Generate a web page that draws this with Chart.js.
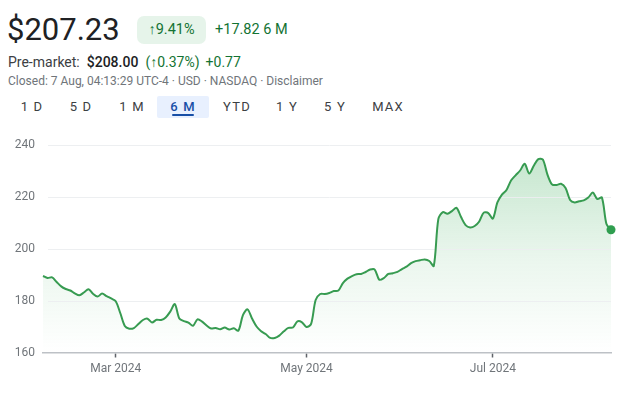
<!DOCTYPE html>
<html>
<head>
<meta charset="utf-8">
<script src="https://cdn.jsdelivr.net/npm/chart.js@4.4.1/dist/chart.umd.min.js"></script>
<style>
  html,body{margin:0;padding:0;background:#fff;width:640px;height:401px;overflow:hidden;font-family:Roboto,"Noto Sans",Arial,sans-serif;}
  .abs{position:absolute;white-space:nowrap;}
  #price{left:7px;top:10px;font-size:31px;color:#202124;line-height:40px;}
  #badge{left:137px;top:16px;width:69px;height:28px;background:#e6f4ea;border-radius:7px;color:#137333;font-size:14.5px;line-height:28px;text-align:center;}
  #chg{left:215px;top:16px;font-size:14.5px;color:#137333;line-height:28px;}
  #pre{left:8px;top:52px;font-size:14px;line-height:20px;color:#3c4043;}
  #pre b{font-weight:500;color:#202124;margin-left:7px;margin-right:7px;}
  #pre .g{color:#137333;}
  #pre .g2{color:#137333;margin-left:6px;}
  #closed{left:8px;top:72px;font-size:12px;line-height:18px;color:#70757a;}
  .tab{position:absolute;top:96px;height:22px;line-height:22px;font-size:13px;color:#3c4043;letter-spacing:1.2px;text-align:center;}
  #active{position:absolute;left:157px;top:96px;width:52px;height:22px;background:#e8f0fe;border-radius:2px;}
  #uline{position:absolute;left:172px;top:114px;width:22px;height:2px;background:#174ea6;border-radius:1px;}
  #cv{position:absolute;left:0;top:120px;}
</style>
</head>
<body>
<div id="price" class="abs">$207.23</div>
<div id="badge" class="abs">↑9.41%</div>
<div id="chg" class="abs">+17.82 6 M</div>
<div id="pre" class="abs">Pre-market:<b>$208.00</b><span class="g">(↑0.37%)</span><span class="g2">+0.77</span></div>
<div id="closed" class="abs">Closed: 7 Aug, 04:13:29 UTC-4 · USD · NASDAQ · Disclaimer</div>
<div id="active"></div>
<div id="tabs"></div>
<div id="uline"></div>
<canvas id="cv" width="640" height="270"></canvas>
<script>
// Daily closes (trading days, 7 Feb 2024 .. 6 Aug 2024)
const prices = [
  189.41,188.65,188.92,187.12,185.42,184.42,183.85,182.73,182.00,183.08,
  184.35,182.58,181.50,182.65,181.65,180.80,179.70,175.20,170.20,169.15,
  169.40,170.96,172.50,173.00,171.54,172.60,172.50,173.46,175.70,178.65,
  173.08,172.10,171.50,170.27,172.77,171.90,170.40,169.23,169.42,168.92,
  169.60,168.85,169.30,168.40,174.40,176.60,173.10,170.00,168.20,167.10,
  165.60,165.60,166.50,168.15,169.46,169.60,171.96,171.60,169.80,171.00,
  180.20,182.50,182.50,182.90,183.65,183.85,186.70,188.40,189.40,190.10,
  190.20,190.96,191.90,191.90,188.00,188.60,190.20,190.50,191.00,192.10,
  193.00,194.40,195.15,195.50,195.80,195.20,193.30,211.30,214.00,213.35,
  214.40,215.65,212.10,209.00,208.10,208.65,210.40,213.80,213.60,211.50,
  217.70,220.70,222.50,226.15,228.15,230.00,232.60,228.85,231.80,234.40,
  234.20,228.50,224.70,224.40,224.90,223.30,218.65,217.70,218.20,218.50,
  219.60,221.50,219.00,219.60,209.40,207.23
];
const xTickIndex = [16, 58, 99];
const xTickLabels = ['Mar 2024', 'May 2024', 'Jul 2024'];
const yTicks = [160, 180, 200, 220, 240];
const rangeTabs = ['1D','5D','1M','6M','YTD','1Y','5Y','MAX'];
const activeTab = '6M';

// tabs
const tabCenters = [32, 81, 132, 183, 237, 287, 335, 388];
const tabsEl = document.getElementById('tabs');
rangeTabs.forEach((t, i) => {
  const d = document.createElement('div');
  d.className = 'tab';
  d.textContent = t.length === 2 ? t[0] + ' ' + t[1] : t;
  d.style.left = (tabCenters[i] - 30) + 'px';
  d.style.width = '60px';
  if (t === activeTab) { d.style.color = '#174ea6'; d.style.fontWeight = '500'; }
  tabsEl.appendChild(d);
});

const points = prices.map((v, i) => ({x: i, y: v}));
const last = prices.length - 1;
const green = '#379b51';

const gridPlugin = {
  id: 'gridOverFill',
  afterDatasetDraw(chart, args) {
    if (args.index !== 1) return;
    const {ctx, chartArea} = chart;
    const ys = chart.scales.y;
    ctx.save();
    ctx.strokeStyle = 'rgba(236,238,240,0.95)';
    ctx.lineWidth = 1;
    yTicks.slice(1).forEach(v => {
      const py = Math.round(ys.getPixelForValue(v)) + 0.5;
      ctx.beginPath();
      ctx.moveTo(chartArea.left + 5, py);
      ctx.lineTo(chartArea.right, py);
      ctx.stroke();
    });
    ctx.restore();
  }
};

new Chart(document.getElementById('cv'), {
  type: 'line',
  data: {
    datasets: [
      {
        data: points,
        borderColor: green,
        borderWidth: 2,
        tension: 0.3,
        fill: false,
        order: 0,
        clip: false,
        pointRadius: ctx => ctx.dataIndex === last ? 4.5 : 0,
        pointBackgroundColor: '#2f9e4f',
        pointBorderWidth: 0,
        pointHoverRadius: 0
      },
      {
        data: points,
        borderWidth: 0,
        tension: 0.3,
        pointRadius: 0,
        fill: 'start',
        order: 1,
        backgroundColor: (c) => {
          const ch = c.chart;
          const area = ch.chartArea;
          if (!area) return 'rgba(52,168,83,0.1)';
          const g = ch.ctx.createLinearGradient(0, area.top, 0, area.bottom);
          g.addColorStop(0, 'rgba(52,168,83,0.30)');
          g.addColorStop(0.55, 'rgba(52,168,83,0.10)');
          g.addColorStop(1, 'rgba(52,168,83,0)');
          return g;
        }
      }
    ]
  },
  options: {
    responsive: false,
    animation: false,
    layout: {padding: {top: 24.5, right: 29, bottom: 0, left: 0}},
    plugins: {legend: {display: false}, tooltip: {enabled: false}},
    scales: {
      x: {
        type: 'linear',
        min: 0,
        max: last,
        afterBuildTicks: s => { s.ticks = xTickIndex.map(v => ({value: v})); },
        afterFit: s => { s.height = 37.5; },
        ticks: {
          autoSkip: false, maxRotation: 0, padding: 4,
          color: '#70757a', font: {family: 'Roboto', size: 12},
          callback: v => xTickLabels[xTickIndex.indexOf(v)]
        },
        grid: {drawOnChartArea: false, drawTicks: true, tickLength: 5, tickColor: '#5f6368', tickWidth: 1.5},
        border: {display: true, color: '#bdc1c6', width: 1.5}
      },
      y: {
        min: 160,
        max: 240,
        afterBuildTicks: s => { s.ticks = yTicks.map(v => ({value: v})); },
        afterFit: s => { s.width = 43; },
        ticks: {padding: 8, color: '#70757a', font: {family: 'Roboto', size: 12}},
        grid: {display: false, drawTicks: false},
        border: {display: false}
      }
    }
  },
  plugins: [gridPlugin]
});
</script>
</body>
</html>
